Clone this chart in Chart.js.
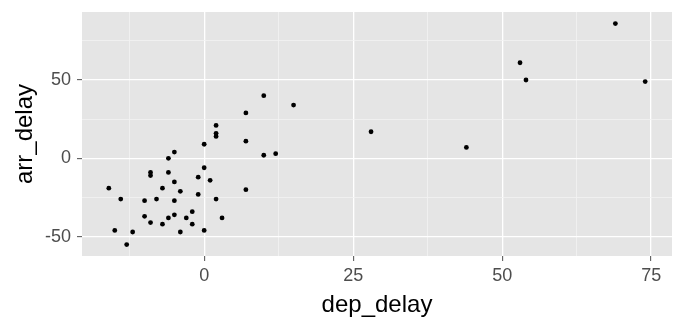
<!DOCTYPE html>
<html>
<head>
<meta charset="utf-8">
<script src="https://cdn.jsdelivr.net/npm/chart.js@4"></script>
<style>
  body { margin: 0; background: #ffffff; }
  #wrap { width: 684px; height: 324px; }
</style>
</head>
<body>
<div id="wrap"><canvas id="chart" width="684" height="324"></canvas></div>
<script>
// departure delay vs arrival delay (minutes)
const depDelay = [69, 53, 54, 74, 44, 28, 15, 10, 7, 7, 10, 12, 7,
    2, 2, 2, 0, -5, -6, 0, -9, -9, -6, -1, 1, -5, -16, -7, -4, -1,
    -14, -10, -8, -5, 2, -10, -9, -6, -5, -3, -2, 3, -7, -2, -15, -12, -4, 0, -13];
const arrDelay = [86, 61, 50, 49, 7, 17, 34, 40, 29, 11, 2, 3, -20,
    21, 16, 14, 9, 4, 0, -6, -9, -11, -9, -12, -14, -15, -19, -19, -21, -23,
    -26, -27, -26, -27, -26, -37, -41, -38, -36, -38, -34, -38, -42, -42, -46, -47, -47, -46, -55];

const xMajor = [0, 25, 50, 75];
const xMinor = [-12.5, 12.5, 37.5, 62.5];
const yMajor = [-50, 0, 50];
const yMinor = [-25, 25, 75];

const points = depDelay.map((d, i) => ({ x: d, y: arrDelay[i] }));

const FONT = '"Liberation Sans", Arial, Helvetica, sans-serif';

function isMajor(list, v) {
    return list.some(m => Math.abs(m - v) < 1e-9);
}

function setTicks(major, minor) {
    return (axis) => {
        axis.ticks = major.concat(minor).sort((a, b) => a - b).map(v => ({ value: v }));
    };
}

const panelBg = {
    id: 'panelBg',
    beforeDraw(chart) {
        const { ctx, chartArea: a } = chart;
        ctx.save();
        ctx.fillStyle = '#e5e5e5';
        ctx.fillRect(a.left, a.top, a.right - a.left, a.bottom - a.top);
        ctx.restore();
    }
};

function axisOpts(major, minor, title, min, max, fitFn) {
    return {
        type: 'linear',
        min: min,
        max: max,
        afterBuildTicks: setTicks(major, minor),
        afterFit: fitFn,
        border: { display: false },
        grid: {
            color: ctx => isMajor(major, ctx.tick.value) ? '#ffffff' : '#f2f2f2',
            lineWidth: ctx => isMajor(major, ctx.tick.value) ? 1.3 : 0.8,
            tickColor: ctx => isMajor(major, ctx.tick.value) ? '#4d4d4d' : 'rgba(0,0,0,0)',
            tickLength: 5,
            tickWidth: 1
        },
        ticks: {
            autoSkip: false,
            maxRotation: 0,
            padding: 4,
            color: '#4d4d4d',
            font: { family: FONT, size: 18 },
            callback: v => isMajor(major, v) ? String(v) : ''
        },
        title: {
            display: true,
            text: title,
            color: '#000000',
            font: { family: FONT, size: 24 }
        }
    };
}

// fixed panel box: left 82, top 12, right 672, bottom 256
const xAxis = axisOpts(xMajor, xMinor, 'dep_delay', -20.5, 78.5, s => {
    s.height = 68;
    s.paddingLeft = 0;
    s.paddingRight = 0;
});
xAxis.title.padding = { top: 0, bottom: 4 };
const yAxis = axisOpts(yMajor, yMinor, 'arr_delay', -62.3, 93.4, s => {
    s.width = 82;
    s.paddingTop = 0;
    s.paddingBottom = 0;
});
yAxis.ticks.padding = 6;
yAxis.title.padding = { top: 11, bottom: 0 };

new Chart(document.getElementById('chart').getContext('2d'), {
    type: 'scatter',
    data: {
        datasets: [{
            data: points,
            backgroundColor: '#000000',
            borderWidth: 0,
            pointRadius: 2.4
        }]
    },
    options: {
        responsive: false,
        animation: false,
        layout: { padding: { top: 12, right: 12, left: 0, bottom: 0 } },
        plugins: {
            legend: { display: false },
            tooltip: { enabled: false }
        },
        scales: { x: xAxis, y: yAxis }
    },
    plugins: [panelBg]
});
</script>
</body>
</html>
